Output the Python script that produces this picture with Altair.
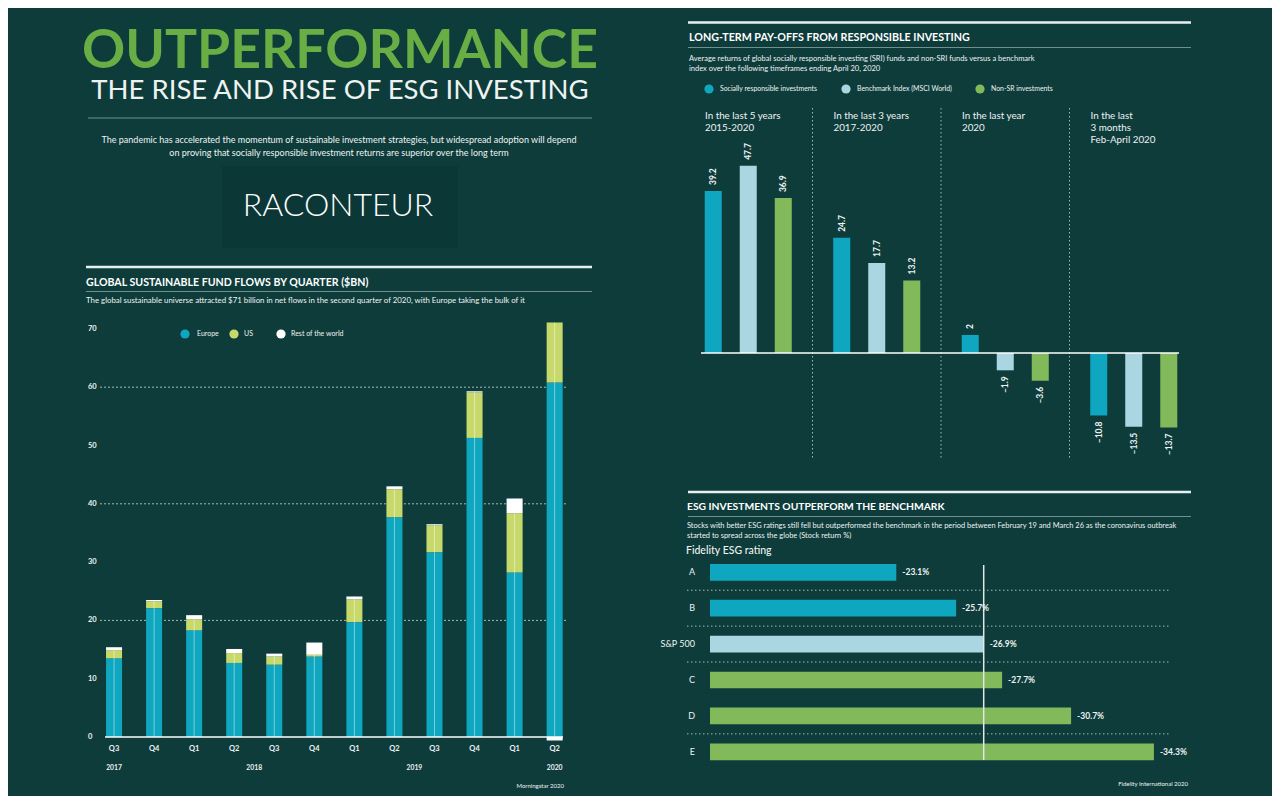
import altair as alt
import pandas as pd

# ---------------- data ----------------
quarters = ["Q3", "Q4", "Q1", "Q2", "Q3", "Q4", "Q1", "Q2", "Q3", "Q4", "Q1", "Q2"]
quarter_years = ["2017", "2017", "2018", "2018", "2018", "2018", "2019", "2019", "2019", "2019", "2020", "2020"]
europe = [13.5, 22.1, 18.3, 12.7, 12.4, 13.8, 19.7, 37.7, 31.7, 51.3, 28.2, 60.8]
us = [1.4, 1.2, 1.9, 1.7, 1.4, 0.3, 3.9, 4.8, 4.6, 7.8, 10.2, 10.3]
rest_of_world = [0.5, 0.2, 0.7, 0.7, 0.5, 2.1, 0.5, 0.5, 0.2, 0.2, 2.5, -0.6]
regions = ["Europe", "US", "Rest of the world"]
flow_ticks = [0, 10, 20, 30, 40, 50, 60, 70]
flow_grid = [20, 40, 60]

period_keys = ["5y", "3y", "1y", "3m"]
period_headers = ["In the last 5 years\n2015-2020", "In the last 3 years\n2017-2020",
                  "In the last year\n2020", "In the last\n3 months\nFeb-April 2020"]
series = ["Socially responsible investments", "Benchmark Index (MSCI World)", "Non-SR investments"]
sri_returns = [39.2, 24.7, 2, -10.8]
benchmark_returns = [47.7, 17.7, -1.9, -13.5]
non_sr_returns = [36.9, 13.2, -3.6, -13.7]

ratings = ["A", "B", "S&P 500", "C", "D", "E"]
rating_returns = [-23.1, -25.7, -26.9, -27.7, -30.7, -34.3]
rating_groups = ["better", "better", "benchmark", "worse", "worse", "worse"]
rating_separators_after = ["A", "B", "S&P 500", "D"]

# ---------------- style ----------------
FONT = "Lato"
BG = "#0d3c3b"
TEAL = "#0fa6bf"
LIME = "#c7d96b"
WHITE = "#ffffff"
LBLUE = "#a9d6e1"
GREEN = "#82b95b"
HEAD_GREEN = "#69ad45"
LINE = "#6f908d"
DOT = "#a3bab7"
TXT = "#eef3f2"


def P(v):
    return v - 8


one = pd.DataFrame({"t": [""]})


def txt(s, x, y, size, color=TXT, weight="normal", align="left", font=FONT, baseline="alphabetic"):
    return alt.Chart(pd.DataFrame({"t": [s]})).mark_text(
        align=align, baseline=baseline, fontSize=size, fontWeight=weight, color=color, font=font
    ).encode(text="t:N", x=alt.value(P(x)), y=alt.value(P(y)))


def hline(x1, x2, y, color=LINE, width=1.0, dash=None):
    kw = dict(color=color, strokeWidth=width)
    if dash:
        kw["strokeDash"] = dash
    return alt.Chart(one).mark_rule(**kw).encode(
        x=alt.value(P(x1)), x2=alt.value(P(x2)), y=alt.value(P(y)))


def legend_item(label, cx, lx, y, color, size):
    dot = alt.Chart(one).mark_point(filled=True, shape="circle", size=85, opacity=1, color=color).encode(
        x=alt.value(P(cx)), y=alt.value(P(y)))
    return [dot, txt(label, lx, y, size, baseline="middle")]


layers = []

# ---------------- left header ----------------
layers.append(txt("OUTPERFORMANCE", 340, 68, 53.5, color=HEAD_GREEN, weight="bold", align="center"))
layers.append(txt("THE RISE AND RISE OF ESG INVESTING", 340, 98.5, 27.5, color=TXT, align="center"))
layers.append(hline(88, 592, 118, color=LINE))
layers.append(txt("The pandemic has accelerated the momentum of sustainable investment strategies, but widespread adoption will depend",
                  339, 143, 9.0, align="center"))
layers.append(txt("on proving that socially responsible investment returns are superior over the long term",
                  339, 155.5, 9.0, align="center"))
layers.append(alt.Chart(one).mark_rect(color="#0b3737").encode(
    x=alt.value(P(222)), x2=alt.value(P(458)), y=alt.value(P(166)), y2=alt.value(P(248))))
layers.append(txt("RACONTEUR", 338, 216, 32, color=WHITE, weight=300, align="center"))

# ---------------- left chart: fund flows ----------------
keys = [f"{y} {q}" for y, q in zip(quarter_years, quarters)]
rows = []
for i, k in enumerate(keys):
    for j, (reg, vals) in enumerate(zip(regions, [europe, us, rest_of_world])):
        rows.append({"key": k, "region": reg, "value": vals[i], "ord": j})
flows = pd.DataFrame(rows)
totals = pd.DataFrame({"key": keys,
                       "total": [e + u + max(r, 0) for e, u, r in zip(europe, us, rest_of_world)]})

PX = 5.83
xs_left = alt.Scale(domain=keys, range=[P(86), P(582.7)], paddingInner=0.6, paddingOuter=0.5)
ys_left = alt.Scale(domain=[0, 70], range=[P(737), P(737 - 70 * PX)], nice=False)

layers.append(txt("GLOBAL SUSTAINABLE FUND FLOWS BY QUARTER ($BN)", 86, 286, 10.6, color=WHITE, weight="bold"))
layers.append(hline(86, 592, 267, color="#e8efee", width=2.5))
layers.append(hline(86, 592, 291.5, color=LINE))
layers.append(txt("The global sustainable universe attracted $71 billion in net flows in the second quarter of 2020, with Europe taking the bulk of it",
                  86, 302.5, 7.85))
for lab, cx, lx, col in zip(regions, [185, 234, 281], [197, 244, 291], [TEAL, LIME, WHITE]):
    layers += legend_item(lab, cx, lx, 334, col, 7.0)

grid = alt.Chart(pd.DataFrame({"g": flow_grid})).mark_rule(color=DOT, strokeDash=[2, 2], strokeWidth=1).encode(
    y=alt.Y("g:Q", scale=ys_left, axis=None), x=alt.value(P(100)), x2=alt.value(P(566)))
bars = alt.Chart(flows).mark_bar().encode(
    x=alt.X("key:N", scale=xs_left, axis=None),
    y=alt.Y("value:Q", scale=ys_left, axis=None, stack="zero"),
    color=alt.Color("region:N", scale=alt.Scale(domain=regions, range=[TEAL, LIME, WHITE]), legend=None),
    order=alt.Order("ord:Q"))
center = alt.Chart(totals).mark_rule(color=WHITE, opacity=0.45, strokeWidth=1).encode(
    x=alt.X("key:N", scale=xs_left, axis=None),
    y=alt.Y("total:Q", scale=ys_left, axis=None), y2=alt.datum(0))
base = alt.Chart(pd.DataFrame({"z": [0]})).mark_rule(color=WHITE, strokeWidth=1.5).encode(
    y=alt.Y("z:Q", scale=ys_left, axis=None), x=alt.value(P(105)), x2=alt.value(P(563)))
ylab = alt.Chart(pd.DataFrame({"v": flow_ticks})).mark_text(
    align="left", baseline="middle", fontSize=7.5, fontWeight="bold", color=TXT, font=FONT).encode(
    x=alt.value(P(88)), y=alt.Y("v:Q", scale=ys_left, axis=None), text="v:N")
qlab = alt.Chart(pd.DataFrame({"key": keys, "q": quarters})).mark_text(
    baseline="middle", fontSize=7.5, fontWeight="bold", color=TXT, font=FONT).encode(
    x=alt.X("key:N", scale=xs_left, axis=None), y=alt.value(P(748.5)), text="q:N")
ylab1 = alt.Chart(pd.DataFrame({"key": [keys[0], keys[-1]], "y": [quarter_years[0], quarter_years[-1]]})).mark_text(
    baseline="middle", fontSize=6.8, fontWeight="bold", color=TXT, font=FONT).encode(
    x=alt.X("key:N", scale=xs_left, axis=None), y=alt.value(P(767.5)), text="y:N")
ylab2 = alt.Chart(pd.DataFrame({"key": [keys[3], keys[7]], "y": [quarter_years[3], quarter_years[7]]})).mark_text(
    baseline="middle", fontSize=6.8, fontWeight="bold", color=TXT, font=FONT, dx=20).encode(
    x=alt.X("key:N", scale=xs_left, axis=None), y=alt.value(P(767.5)), text="y:N")
layers.append(alt.layer(grid, bars, center, base, ylab, qlab, ylab1, ylab2))
layers.append(txt("Morningstar 2020", 564, 788, 6, align="right"))
layers.append(hline(86, 592, 798, color=LINE))

# ---------------- right top: long-term pay-offs ----------------
layers.append(hline(688, 1191, 22.5, color="#e8efee", width=2.5))
layers.append(txt("LONG-TERM PAY-OFFS FROM RESPONSIBLE INVESTING", 689, 41, 10.7, color=WHITE, weight="bold"))
layers.append(hline(688, 1191, 47.5, color=LINE))
layers.append(txt("Average returns of global socially responsible investing (SRI) funds and non-SRI funds versus a benchmark",
                  689, 60.5, 7.5))
layers.append(txt("index over the following timeframes ending April 20, 2020", 689, 70.5, 7.5))
for lab, cx, lx, col in zip(series, [709, 846, 980], [720, 857, 991], [TEAL, LBLUE, GREEN]):
    layers += legend_item(lab, cx, lx, 89, col, 6.9)

ret_rows = []
for i, pk in enumerate(period_keys):
    for s, vals in zip(series, [sri_returns, benchmark_returns, non_sr_returns]):
        v = vals[i]
        ret_rows.append({"period": pk, "series": s, "ret": v,
                         "label": (f"{v:g}").replace("-", "\u2013")})
rets = pd.DataFrame(ret_rows)

xs_r = alt.Scale(domain=period_keys, range=[P(684), P(1198)], paddingInner=0, paddingOuter=0)
xo_r = alt.Scale(domain=series, paddingInner=0.514, paddingOuter=0.592)
ys_r = alt.Scale(type="pow", exponent=0.738, domain=[-20, 50], range=[P(451.5), P(159.2)], nice=False)

rbars = alt.Chart(rets).mark_bar().encode(
    x=alt.X("period:N", scale=xs_r, axis=None),
    xOffset=alt.XOffset("series:N", scale=xo_r),
    y=alt.Y("ret:Q", scale=ys_r, axis=None), y2=alt.datum(0),
    color=alt.Color("series:N", scale=alt.Scale(domain=series, range=[TEAL, LBLUE, GREEN]), legend=None))
rpos = alt.Chart(rets).transform_filter("datum.ret >= 0").mark_text(
    angle=270, align="left", baseline="middle", dx=6, fontSize=8.5, fontWeight="bold", color=TXT, font=FONT).encode(
    x=alt.X("period:N", scale=xs_r, axis=None), xOffset=alt.XOffset("series:N", scale=xo_r),
    y=alt.Y("ret:Q", scale=ys_r, axis=None), text="label:N")
rneg = alt.Chart(rets).transform_filter("datum.ret < 0").mark_text(
    angle=270, align="right", baseline="middle", dx=-6, fontSize=8.5, fontWeight="bold", color=TXT, font=FONT).encode(
    x=alt.X("period:N", scale=xs_r, axis=None), xOffset=alt.XOffset("series:N", scale=xo_r),
    y=alt.Y("ret:Q", scale=ys_r, axis=None), text="label:N")
seps = alt.Chart(pd.DataFrame({"period": period_keys[1:]})).mark_rule(
    color=DOT, strokeDash=[1.5, 2.5], strokeWidth=1).encode(
    x=alt.X("period:N", scale=xs_r, axis=None, bandPosition=0), y=alt.value(P(108)), y2=alt.value(P(460)))
heads = alt.Chart(pd.DataFrame({"period": period_keys, "h": period_headers})).mark_text(
    align="left", baseline="alphabetic", lineBreak="\n", lineHeight=11.8, fontSize=9.8, color=TXT, font=FONT, dx=21).encode(
    x=alt.X("period:N", scale=xs_r, axis=None, bandPosition=0), y=alt.value(P(119)), text="h:N")
rbase = alt.Chart(pd.DataFrame({"z": [0]})).mark_rule(color=WHITE, strokeWidth=1.5).encode(
    y=alt.Y("z:Q", scale=ys_r, axis=None), x=alt.value(P(701)), x2=alt.value(P(1179)))
layers.append(alt.layer(seps, rbars, rbase, rpos, rneg, heads))

# ---------------- right bottom: ESG ratings ----------------
layers.append(hline(688, 1191, 492, color="#e8efee", width=2.5))
layers.append(txt("ESG INVESTMENTS OUTPERFORM THE BENCHMARK", 687, 510, 10.3, color=WHITE, weight="bold"))
layers.append(hline(688, 1191, 516.5, color=LINE))
layers.append(txt("Stocks with better ESG ratings still fell but outperformed the benchmark in the period between February 19 and March 26 as the coronavirus outbreak",
                  687, 527.5, 7.45))
layers.append(txt("started to spread across the globe (Stock return %)", 687, 537.5, 7.45))
layers.append(txt("Fidelity ESG rating", 686, 554, 10.5, weight=500))

esg = pd.DataFrame({"rating": ratings, "ret": rating_returns, "grp": rating_groups})
esg["mag"] = esg["ret"].abs()
esg["label"] = [f"{v:.1f}%" for v in rating_returns]
X0 = 15
xs_e = alt.Scale(domain=[X0, 36], range=[P(710), P(710 + 21 * 23)], zero=False, nice=False)
ys_e = alt.Scale(domain=ratings, range=[P(554.35), P(769.75)], paddingInner=0.535, paddingOuter=0.2675)

ebars = alt.Chart(esg).mark_bar().encode(
    y=alt.Y("rating:N", scale=ys_e, axis=None),
    x=alt.X("mag:Q", scale=xs_e, axis=None), x2=alt.datum(X0),
    color=alt.Color("grp:N", scale=alt.Scale(domain=["better", "benchmark", "worse"], range=[TEAL, LBLUE, GREEN]), legend=None))
elab = alt.Chart(esg).mark_text(align="left", baseline="middle", dx=6, fontSize=8.5, fontWeight="bold", color=TXT, font=FONT).encode(
    y=alt.Y("rating:N", scale=ys_e, axis=None), x=alt.X("mag:Q", scale=xs_e, axis=None), text="label:N")
erow = alt.Chart(esg).mark_text(align="right", baseline="middle", fontSize=9, color=TXT, font=FONT).encode(
    y=alt.Y("rating:N", scale=ys_e, axis=None), x=alt.value(P(695)), text="rating:N")
esep = alt.Chart(pd.DataFrame({"rating": rating_separators_after})).mark_rule(
    color=DOT, strokeDash=[1.5, 2.5], strokeWidth=1, yOffset=9.6).encode(
    y=alt.Y("rating:N", scale=ys_e, axis=None, bandPosition=1), x=alt.value(P(687)), x2=alt.value(P(1170)))
evline = alt.Chart(esg).transform_filter("datum.grp == 'benchmark'").mark_rule(color="#dfe8e6", strokeWidth=1.5).encode(
    x=alt.X("mag:Q", scale=xs_e, axis=None), y=alt.value(P(565)), y2=alt.value(P(760)))
layers.append(alt.layer(esep, ebars, evline, elab, erow))
layers.append(txt("Fidelity International 2020", 1188, 786, 6, align="right"))

chart = alt.layer(*layers).resolve_scale(
    x="independent", y="independent", color="independent"
).properties(
    width=1264, height=788, padding=0, background=BG,
    autosize=alt.AutoSizeParams(type="none")
).configure_view(stroke=None)

chart.save("out.html", embed_options={"renderer": "svg", "actions": False})
